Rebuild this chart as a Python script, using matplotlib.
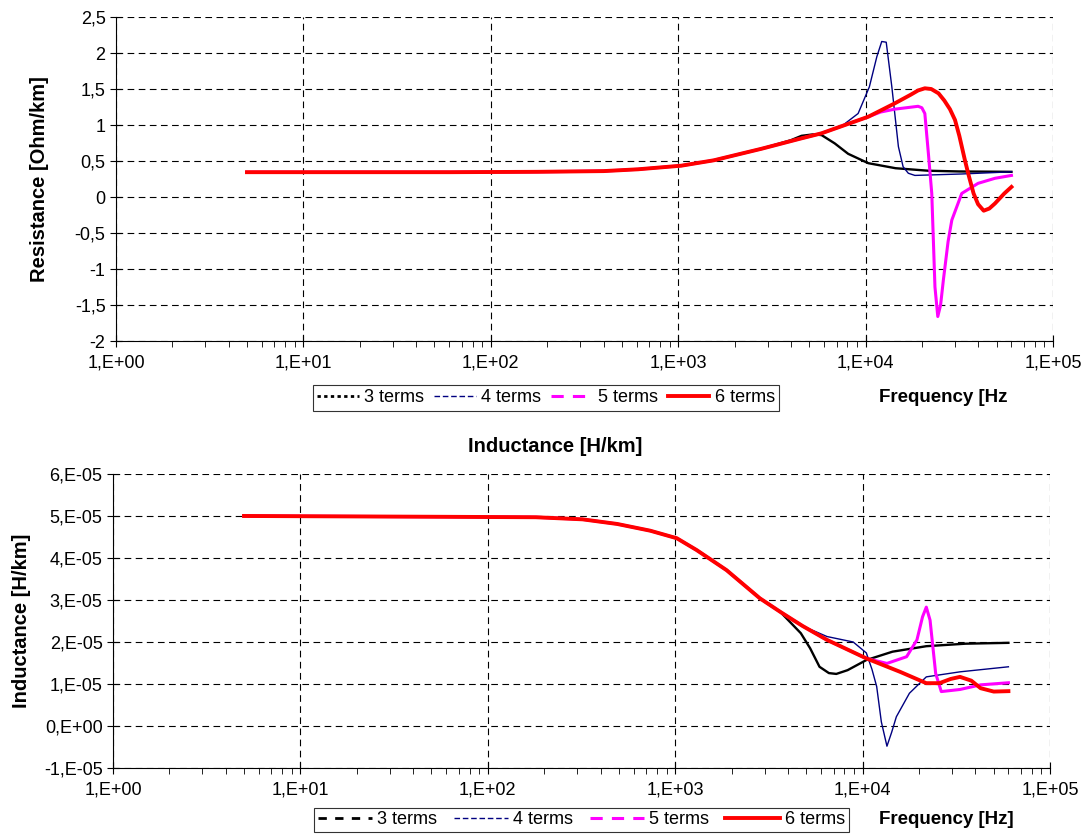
import numpy as np
import matplotlib
matplotlib.use("Agg")
import matplotlib.pyplot as plt
from matplotlib.lines import Line2D
from matplotlib.ticker import FixedLocator, LogLocator, NullFormatter

plt.rcParams['font.family'] = ['Liberation Sans', 'DejaVu Sans']

# ---- resistance [Ohm/km] ----
# low-frequency part shared by all fits
f_R_low = [5, 61, 178, 400, 610, 1038, 1550, 2000, 2780]
R_low = [0.345, 0.345, 0.35, 0.36, 0.385, 0.435, 0.51, 0.58, 0.67]

f_R3 = [4000, 4550, 5250, 5820, 6840, 8070, 10330, 14450, 21630, 31600, 60000]
R3 = [0.79, 0.85, 0.87, 0.86, 0.745, 0.60, 0.47, 0.40, 0.365, 0.355, 0.35]

f_R4 = [4470, 5820, 7410, 9120, 10470, 11480, 12190, 12880, 13800, 14960, 15850,
        16900, 18320, 32580, 60000]
R4 = [0.81, 0.885, 0.98, 1.16, 1.53, 1.95, 2.16, 2.15, 1.53, 0.70, 0.42,
      0.33, 0.30, 0.32, 0.35]

f_R5 = [4470, 5820, 10330, 12020, 14290, 19050, 19950, 20700, 21630, 22540, 23440,
        24270, 25120, 26000, 27540, 28840, 32580, 39810, 48980, 60000]
R5 = [0.81, 0.885, 1.115, 1.18, 1.22, 1.26, 1.24, 1.16, 0.60, 0.05, -1.25,
      -1.66, -1.50, -1.15, -0.62, -0.32, 0.05, 0.19, 0.26, 0.30]

f_R6 = [4470, 5820, 10330, 14290, 17380, 19050, 20700, 22390, 24490, 26300, 28180,
        29990, 31620, 33880, 35480, 37670, 39810, 42660, 45710, 48980, 55000, 60000]
R6 = [0.81, 0.885, 1.115, 1.30, 1.42, 1.48, 1.51, 1.50, 1.44, 1.34, 1.22,
      1.07, 0.85, 0.51, 0.30, 0.05, -0.10, -0.19, -0.16, -0.09, 0.05, 0.14]

# ---- inductance [1e-5 H/km] ----
f_L_low = [5, 60, 180, 320, 490, 735, 1020, 1300, 1540, 1880, 2830, 3630]
L_low = [5.0, 4.98, 4.97, 4.92, 4.81, 4.65, 4.47, 4.19, 3.97, 3.71, 3.04, 2.72]

f_L3 = [4680, 5250, 5890, 6610, 7240, 8320, 10470, 14450, 21880, 35480, 60000]
L3 = [2.21, 1.85, 1.41, 1.26, 1.24, 1.33, 1.57, 1.77, 1.90, 1.96, 1.98]

f_L4 = [4270, 4790, 6460, 8910, 10470, 11220, 11890, 12590, 13490, 14290, 15140,
        17780, 21880, 33110, 60000]
L4 = [2.52, 2.38, 2.13, 2.0, 1.74, 1.35, 0.94, 0.10, -0.48, -0.15, 0.22,
      0.78, 1.17, 1.29, 1.41]

f_L5 = [4270, 4790, 6460, 10470, 13490, 17180, 19500, 20890, 21880, 22910, 24550,
        26300, 33110, 42660, 60000]
L5 = [2.52, 2.38, 2.05, 1.61, 1.49, 1.65, 2.05, 2.60, 2.83, 2.52, 1.25,
      0.82, 0.87, 0.98, 1.03]

f_L6 = [4270, 4790, 6460, 10470, 15850, 21880, 25700, 29500, 33110, 38020, 42660,
        50120, 60000]
L6 = [2.52, 2.38, 2.05, 1.61, 1.29, 1.02, 1.02, 1.12, 1.17, 1.08, 0.90,
      0.82, 0.83]

x_ticks = [1, 10, 100, 1000, 10000, 100000]
x_labels = ['1,E+00', '1,E+01', '1,E+02', '1,E+03', '1,E+04', '1,E+05']
R_ticks = [-2, -1.5, -1, -0.5, 0, 0.5, 1, 1.5, 2, 2.5]
R_labels = ['-2', '-1,5', '-1', '-0,5', '0', '0,5', '1', '1,5', '2', '2,5']
L_ticks = [-1e-5, 0, 1e-5, 2e-5, 3e-5, 4e-5, 5e-5, 6e-5]
L_labels = ['-1,E-05', '0,E+00', '1,E-05', '2,E-05', '3,E-05', '4,E-05', '5,E-05', '6,E-05']

names = ['3 terms', '4 terms', '5 terms', '6 terms']
colors = ['black', '#000080', '#FF00FF', '#FF0000']
widths = [1.7, 1.0, 2.2, 2.8]


def join(f_low, v_low, f_hi, v_hi, scale=1.0):
    f = np.array(f_low + f_hi, dtype=float)
    v = np.array(v_low + v_hi, dtype=float) * scale
    return f, v


def style_axes(ax, yticks, ylabels, ylim):
    ax.set_xscale('log')
    ax.set_xlim(1, 1e5)
    ax.set_ylim(*ylim)
    ax.xaxis.set_major_locator(FixedLocator(x_ticks))
    ax.set_xticklabels(x_labels)
    ax.xaxis.set_minor_locator(LogLocator(base=10, subs=np.arange(2, 10)))
    ax.xaxis.set_minor_formatter(NullFormatter())
    ax.set_yticks(yticks)
    ax.set_yticklabels(ylabels)
    ax.grid(True, which='major', color='black', linestyle=(0, (6, 4)), linewidth=0.8)
    ax.spines['top'].set_visible(False)
    ax.spines['right'].set_visible(False)
    ax.tick_params(axis='both', which='major', labelsize=13, direction='inout', length=8)
    ax.tick_params(axis='x', which='minor', direction='out', length=4)
    ax.tick_params(axis='x', which='major', pad=6)


def legend_handles(dash3):
    return [
        Line2D([], [], color='black', lw=2.0, linestyle=dash3),
        Line2D([], [], color='#000080', lw=1.0, linestyle=(0, (4, 2))),
        Line2D([], [], color='#FF00FF', lw=2.2, linestyle=(0, (4, 3))),
        Line2D([], [], color='#FF0000', lw=2.8, linestyle='-'),
    ]


fig = plt.figure(figsize=(10.91, 8.34), dpi=100)
ax1 = fig.add_axes([0.1063, 0.5911, 0.8589, 0.3885])
ax2 = fig.add_axes([0.1036, 0.0791, 0.8588, 0.3526])

# resistance
R_series = [join(f_R_low, R_low, f_R3, R3), join(f_R_low, R_low, f_R4, R4),
            join(f_R_low, R_low, f_R5, R5), join(f_R_low, R_low, f_R6, R6)]
for (f, v), c, w in zip(R_series, colors, widths):
    ax1.plot(f, v, color=c, lw=w, solid_joinstyle='round')
style_axes(ax1, R_ticks, R_labels, (-2, 2.5))
ax1.set_ylabel('Resistance [Ohm/km]', fontsize=14.5, fontweight='bold')
ax1.yaxis.set_label_coords(-0.072, 0.5)

# inductance
L_series = [join(f_L_low, L_low, f_L3, L3, 1e-5), join(f_L_low, L_low, f_L4, L4, 1e-5),
            join(f_L_low, L_low, f_L5, L5, 1e-5), join(f_L_low, L_low, f_L6, L6, 1e-5)]
for (f, v), c, w in zip(L_series, colors, widths):
    ax2.plot(f, v, color=c, lw=w, solid_joinstyle='round')
style_axes(ax2, L_ticks, L_labels, (-1e-5, 6e-5))
ax2.set_ylabel('Inductance [H/km]', fontsize=14.5, fontweight='bold')
ax2.yaxis.set_label_coords(-0.088, 0.5)

fig.text(0.509, 0.465, 'Inductance [H/km]', fontsize=14.5, fontweight='bold',
         ha='center', va='center')

leg1 = fig.legend(legend_handles((0, (1.2, 1.2))), names, loc='center',
                  bbox_to_anchor=(0.5005, 0.5228), ncol=4, fontsize=13,
                  frameon=True, fancybox=False, edgecolor='black',
                  handlelength=2.3, handletextpad=0.3, columnspacing=0.55,
                  borderpad=0.25, borderaxespad=0)
leg1.get_frame().set_linewidth(0.8)
fig.text(0.806, 0.5228, 'Frequency [Hz', fontsize=13.5, fontweight='bold',
         ha='left', va='center')

leg2 = fig.legend(legend_handles((0, (3, 3))), names, loc='center',
                  bbox_to_anchor=(0.533, 0.0168), ncol=4, fontsize=13,
                  frameon=True, fancybox=False, edgecolor='black',
                  handlelength=3.0, handletextpad=0.3, columnspacing=0.9,
                  borderpad=0.2, borderaxespad=0)
leg2.get_frame().set_linewidth(0.8)
fig.text(0.806, 0.0168, 'Frequency [Hz]', fontsize=13.5, fontweight='bold',
         ha='left', va='center')

fig.savefig('out.png', dpi=100, facecolor='white')
